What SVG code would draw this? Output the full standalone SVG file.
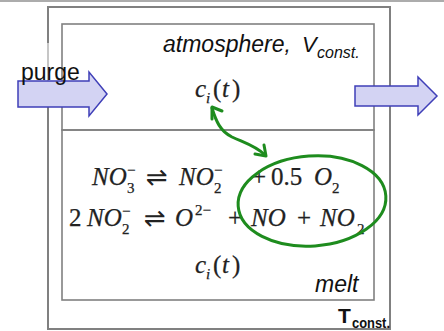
<svg xmlns="http://www.w3.org/2000/svg" width="444" height="331" viewBox="0 0 444 331">
<style>
.frame{fill:none;stroke:#808080;stroke-width:2}
.inner{fill:none;stroke:#808080;stroke-width:1.6}
.flow{fill:#d3d3f3;stroke:#3f3fb8;stroke-width:1.5;stroke-linejoin:miter}
.sans{font-family:"Liberation Sans",Arial,sans-serif;fill:#111}
.math{font-family:"Liberation Serif","Times New Roman",serif;font-size:25px;fill:#222;stroke:#222;stroke-width:0.25}
.it{font-style:italic}
.sub{font-size:15px}
.arr{font-family:"DejaVu Sans",sans-serif;font-size:26px;stroke-width:0}
.green{fill:none;stroke:#1e8c1e;stroke-width:3;stroke-linecap:round;stroke-linejoin:round}
</style>
<rect width="444" height="331" fill="#fff"/>
<line x1="0" y1="1" x2="444" y2="1" stroke="#909090" stroke-width="1.5"/>

<g id="vessel">
  <rect class="frame" x="48" y="7" width="342" height="322"/>
</g>
<g id="atmosphere">
  <rect class="inner" x="62" y="24" width="312" height="106"/>
  <text class="sans it" x="163" y="52" font-size="23">atmosphere,</text>
  <text class="sans it" x="302" y="52" font-size="22">V</text>
  <text class="sans it" x="317" y="58" font-size="16">const.</text>
  <text class="math" y="97"><tspan class="it" x="195">c</tspan><tspan class="it sub" x="206" y="103">i</tspan><tspan x="213" y="97">(</tspan><tspan class="it" x="222">t</tspan><tspan x="232">)</tspan></text>
</g>
<g id="melt">
  <rect class="inner" x="62" y="130" width="312" height="170"/>
  <text class="math" y="185"><tspan class="it" x="92">NO</tspan><tspan class="sub" x="127" y="193">3</tspan><tspan class="sub" x="127" y="175">−</tspan><tspan class="arr" x="146" y="186">⇌</tspan><tspan class="it" x="179" y="185">NO</tspan><tspan class="sub" x="214" y="193">2</tspan><tspan class="sub" x="214" y="175">−</tspan><tspan x="252" y="185">+</tspan><tspan x="271">0.5</tspan><tspan class="it" x="314">O</tspan><tspan class="sub" x="332" y="193">2</tspan></text>
  <text class="math" y="226"><tspan x="69">2</tspan><tspan class="it" x="87">NO</tspan><tspan class="sub" x="122" y="234">2</tspan><tspan class="sub" x="122" y="216">−</tspan><tspan class="arr" x="144" y="227">⇌</tspan><tspan class="it" x="175" y="226">O</tspan><tspan class="sub" x="195" y="215">2−</tspan><tspan x="228" y="226">+</tspan><tspan class="it" x="251">NO</tspan><tspan x="297">+</tspan><tspan class="it" x="320">NO</tspan><tspan class="sub" x="357" y="234">2</tspan></text>
  <text class="math" y="273"><tspan class="it" x="195">c</tspan><tspan class="it sub" x="206" y="279">i</tspan><tspan x="213" y="273">(</tspan><tspan class="it" x="222">t</tspan><tspan x="232">)</tspan></text>
  <text class="sans it" x="315" y="292" font-size="23">melt</text>
</g>
<g id="temperature">
  <text class="sans" x="338" y="323" font-size="21" font-weight="bold">T</text>
  <text class="sans" x="352" y="328" font-size="15" font-weight="bold" textLength="38" lengthAdjust="spacingAndGlyphs">const.</text>
</g>
<g id="purge-in">
  <rect x="2" y="43" width="56" height="53" fill="#fff" opacity="0.55"/>
  <polygon class="flow" points="18,81 89,81 89,72 107,94 89,116 89,107 18,107"/>
  <text class="sans" x="21" y="80" font-size="23">purge</text>
</g>
<g id="purge-out">
  <polygon class="flow" points="355,86 418,86 418,77 437,96 418,115 418,106 355,106"/>
</g>
<g id="connectors">
  <ellipse class="green" cx="312" cy="201" rx="74" ry="45" transform="rotate(-4 312 201)"/>
  <path class="green" d="M212,108 C216,121 220,131 232,137 C245,143 256,146 265,155"/>
  <polyline class="green" points="212,119 212,107 222,111"/>
  <polyline class="green" points="264,145 266,156 255,154"/>
</g>
</svg>
